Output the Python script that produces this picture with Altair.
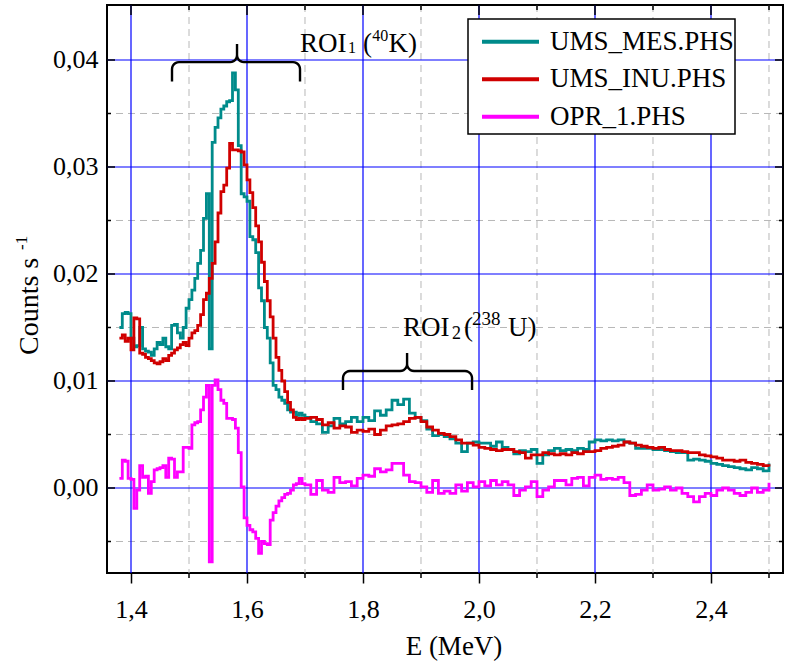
import math
import numpy as np
import pandas as pd
import altair as alt

FONT = "Liberation Serif, Tinos, Noto Serif, DejaVu Serif, serif"

# ---- energy bins (MeV) ----
E_FINE = [round(1.380 + 0.005 * i, 3) for i in range(65)]     # 1.380 .. 1.700
E_COARSE = [round(1.71 + 0.01 * i, 2) for i in range(80)]      # 1.71 .. 2.50
ENERGY = E_FINE + E_COARSE

SERIES = ["UMS_MES.PHS", "UMS_INU.PHS", "OPR_1.PHS"]
COLORS = ["#008B8B", "#D00000", "#FF00FF"]

# ---- count rates (counts s^-1) ----
UMS_MES_FINE = [
    0.0150, 0.0163, 0.0164, 0.0163, 0.0140, 0.0132, 0.0133, 0.0150, 0.0130, 0.0128,
    0.0127, 0.0124, 0.0130, 0.0136, 0.0134, 0.0140, 0.0132, 0.0130, 0.0152, 0.0153,
    0.0145, 0.0140, 0.0150, 0.0168, 0.0176, 0.0185, 0.0196, 0.0210, 0.0222, 0.0252,
    0.0275, 0.0130, 0.0323, 0.0337, 0.0346, 0.0354, 0.0357, 0.0361, 0.0362, 0.0388,
    0.0372, 0.0320, 0.0275, 0.0272, 0.0268, 0.0235, 0.0232, 0.0220, 0.0187, 0.0175,
    0.0150, 0.0140, 0.0117, 0.0096, 0.0092, 0.0085, 0.0082, 0.0079, 0.0073, 0.0071,
    0.0071, 0.0068, 0.0070, 0.0068, 0.0066]
UMS_MES_COARSE = [
    0.0062, 0.0060, 0.0052, 0.0058, 0.0065, 0.0060, 0.0062, 0.0066, 0.0062, 0.0066,
    0.0063, 0.0072, 0.0068, 0.0073, 0.0082, 0.0078, 0.0083, 0.0070, 0.0066, 0.0063,
    0.0055, 0.0049, 0.0050, 0.0048, 0.0046, 0.0042, 0.0034, 0.0042, 0.0043, 0.0042,
    0.0042, 0.0039, 0.0043, 0.0038, 0.0036, 0.0032, 0.0035, 0.0034, 0.0036, 0.0023,
    0.0031, 0.0035, 0.0037, 0.0035, 0.0036, 0.0035, 0.0037, 0.0036, 0.0043, 0.0045,
    0.0044, 0.0045, 0.0044, 0.0045, 0.0043, 0.0042, 0.0037, 0.0037, 0.0037, 0.0036,
    0.0036, 0.0035, 0.0034, 0.0033, 0.0033, 0.0026, 0.0027, 0.0026, 0.0025, 0.0023,
    0.0022, 0.0021, 0.0020, 0.0019, 0.0018, 0.0017, 0.0019, 0.0018, 0.0016, 0.0023]

UMS_INU_FINE = [
    0.0140, 0.0143, 0.0137, 0.0140, 0.0129, 0.0159, 0.0158, 0.0126, 0.0125, 0.0122,
    0.0121, 0.0119, 0.0117, 0.0116, 0.0118, 0.0121, 0.0119, 0.0124, 0.0126, 0.0129,
    0.0131, 0.0134, 0.0136, 0.0133, 0.0140, 0.0145, 0.0147, 0.0152, 0.0162, 0.0176,
    0.0182, 0.0196, 0.0210, 0.0230, 0.0257, 0.0277, 0.0283, 0.0299, 0.0322, 0.0316,
    0.0316, 0.0315, 0.0314, 0.0302, 0.0288, 0.0276, 0.0262, 0.0245, 0.0230, 0.0211,
    0.0193, 0.0175, 0.0160, 0.0140, 0.0122, 0.0110, 0.0100, 0.0090, 0.0080, 0.0073,
    0.0066, 0.0064, 0.0065, 0.0064, 0.0065]
UMS_INU_COARSE = [
    0.0066, 0.0064, 0.0059, 0.0061, 0.0056, 0.0058, 0.0057, 0.0052, 0.0054, 0.0053,
    0.0055, 0.0050, 0.0054, 0.0058, 0.0059, 0.0060, 0.0062, 0.0065, 0.0066, 0.0062,
    0.0057, 0.0054, 0.0051, 0.0050, 0.0048, 0.0045, 0.0042, 0.0042, 0.0040, 0.0038,
    0.0037, 0.0036, 0.0035, 0.0036, 0.0036, 0.0034, 0.0033, 0.0028, 0.0031, 0.0031,
    0.0033, 0.0032, 0.0031, 0.0032, 0.0031, 0.0033, 0.0032, 0.0034, 0.0034, 0.0035,
    0.0037, 0.0038, 0.0039, 0.0040, 0.0043, 0.0042, 0.0040, 0.0039, 0.0038, 0.0037,
    0.0038, 0.0036, 0.0035, 0.0035, 0.0034, 0.0033, 0.0033, 0.0031, 0.0030, 0.0029,
    0.0028, 0.0026, 0.0026, 0.0025, 0.0026, 0.0024, 0.0023, 0.0022, 0.0021, 0.0020]

OPR_1_FINE = [
    0.0009, 0.0026, 0.0025, 0.0009, 0.0008, -0.0019, -0.0002, 0.0021, 0.0010, 0.0011,
    -0.0005, 0.0006, 0.0017, 0.0018, 0.0019, 0.0021, 0.0010, 0.0028, 0.0027, 0.0010,
    0.0015, 0.0015, 0.0038, 0.0038, 0.0037, 0.0059, 0.0061, 0.0062, 0.0073, 0.0085,
    0.0096, -0.0069, 0.0096, 0.0101, 0.0092, 0.0082, 0.0079, 0.0065, 0.0065, 0.0064,
    0.0056, 0.0033, 0.0001, -0.0028, -0.0035, -0.0039, -0.0041, -0.0047, -0.0061, -0.0050,
    -0.0052, -0.0053, -0.0030, -0.0023, -0.0017, -0.0012, -0.0009, -0.0006, -0.0005, -0.0002,
    0.0003, 0.0004, 0.0009, 0.0004, 0.0003]
OPR_1_COARSE = [
    -0.0006, 0.0007, -0.0002, -0.0004, 0.0010, 0.0005, 0.0006, 0.0002, 0.0009, 0.0012,
    0.0011, 0.0018, 0.0015, 0.0017, 0.0023, 0.0023, 0.0012, 0.0006, 0.0005, 0.0001,
    -0.0004, 0.0007, -0.0005, -0.0003, -0.0005, 0.0003, -0.0003, 0.0005, 0.0001, 0.0006,
    0.0002, 0.0007, 0.0003, 0.0006, 0.0003, -0.0007, -0.0002, 0.0001, 0.0006, -0.0008,
    -0.0002, 0.0001, 0.0007, 0.0007, 0.0003, 0.0009, 0.0010, 0.0002, 0.0010, 0.0012,
    0.0008, 0.0009, 0.0008, 0.0010, 0.0005, -0.0007, -0.0006, -0.0002, 0.0003, -0.0002,
    -0.0001, 0.0001, -0.0002, 0.0000, -0.0005, -0.0008, -0.0013, -0.0008, -0.0005, -0.0007,
    -0.0002, 0.0000, -0.0002, -0.0005, -0.0007, -0.0004, 0.0000, -0.0004, -0.0002, 0.0005]

VALUES = [UMS_MES_FINE + UMS_MES_COARSE,
          UMS_INU_FINE + UMS_INU_COARSE,
          OPR_1_FINE + OPR_1_COARSE]

# ---- axes / grid ----
X_MAJOR = [1.4, 1.6, 1.8, 2.0, 2.2, 2.4]
X_MINOR = [1.5, 1.7, 1.9, 2.1, 2.3, 2.5]
Y_MAJOR = [0.0, 0.01, 0.02, 0.03, 0.04]
Y_MINOR = [-0.005, 0.005, 0.015, 0.025, 0.035]
X_DOMAIN = [1.35862, 2.52414]
Y_DOMAIN = [-0.007944, 0.04514]

# ---- ROI annotations ----
ROI_BRACES = [  # left, right, middle, end y, bar y, tip y
    (1.4707, 1.6914, 1.5828, 0.0380, 0.0398, 0.0415),
    (1.7655, 1.9880, 1.8760, 0.00916, 0.01093, 0.01262),
]
ROI_BIG = [("ROI", 1.6914, 0.04075), ("(", 1.8000, 0.04075), ("K)", 1.8440, 0.04075),
           ("ROI", 1.8690, 0.01421), ("(", 1.9740, 0.01421), ("U)", 2.0500, 0.01421)]
ROI_SMALL = [("1", 1.7741, 0.04065, 16), ("40", 1.8160, 0.04178, 16),
             ("2", 1.9534, 0.01394, 18), ("238", 1.9880, 0.01523, 19)]

W, H = 676, 568
FS = 26

xs = alt.Scale(domain=X_DOMAIN, nice=False, zero=False)
ys = alt.Scale(domain=Y_DOMAIN, nice=False, zero=False)

XAXIS = alt.Axis(values=X_MAJOR, labelExpr="replace(format(datum.value, '.1f'), '.', ',')",
                 labelFont=FONT, labelFontSize=FS, labelColor="black",
                 labelBaseline="alphabetic", labelPadding=34, labelFlush=False,
                 labelOverlap=False, tickSize=10, tickWidth=1.5, tickColor="black",
                 grid=False, domain=False, title="")
YAXIS = alt.Axis(values=Y_MAJOR, labelExpr="replace(format(datum.value, '.2f'), '.', ',')",
                 labelFont=FONT, labelFontSize=FS, labelColor="black",
                 labelBaseline="middle", labelPadding=9, labelFlush=False,
                 labelOverlap=False, ticks=False, tickSize=0,
                 grid=False, domain=False, title="")


def X(field):
    return alt.X(f"{field}:Q", scale=xs, axis=XAXIS)


def Y(field):
    return alt.Y(f"{field}:Q", scale=ys, axis=YAXIS)


layers = []

# grid
minor_x = pd.DataFrame({"x": X_MINOR})
minor_y = pd.DataFrame({"y": Y_MINOR})
major_x = pd.DataFrame({"x": X_MAJOR})
major_y = pd.DataFrame({"y": Y_MAJOR})
layers.append(alt.Chart(minor_x).mark_rule(color="#B8B8B8", strokeWidth=1, strokeDash=[7, 5]).encode(x=X("x")))
layers.append(alt.Chart(minor_y).mark_rule(color="#B8B8B8", strokeWidth=1, strokeDash=[7, 5]).encode(y=Y("y")))
layers.append(alt.Chart(major_x).mark_rule(color="#0000FF", strokeWidth=1.2).encode(x=X("x")))
layers.append(alt.Chart(major_y).mark_rule(color="#0000FF", strokeWidth=1.2).encode(y=Y("y")))

# spectra
for name, color, vals in zip(SERIES, COLORS, VALUES):
    assert len(vals) == len(ENERGY), (name, len(vals))
    df = pd.DataFrame({"E": ENERGY, "v": vals})
    layers.append(alt.Chart(df).mark_line(color=color, strokeWidth=2.8,
                                          interpolate="step-after").encode(x=X("E"), y=Y("v")))


# braces
def brace(L, R, M, y_end, y_bar, y_tip, rx=0.012, ry=0.00065, n=7):
    def arc(cx, cy, t0, t1):
        return [(cx + rx * math.cos(t), cy + ry * math.sin(t)) for t in np.linspace(t0, t1, n)]
    pts = [(L, y_end)]
    pts += arc(L + rx, y_bar - ry, math.pi, math.pi / 2)
    pts += arc(M - rx, y_bar + ry, -math.pi / 2, 0)
    pts += [(M, y_tip), (M, y_bar + ry)]
    pts += arc(M + rx, y_bar + ry, math.pi, 1.5 * math.pi)
    pts += arc(R - rx, y_bar - ry, math.pi / 2, 0)
    pts += [(R, y_end)]
    return pts


for i, b in enumerate(ROI_BRACES):
    pts = brace(*b)
    bdf = pd.DataFrame({"bx": [p[0] for p in pts], "by": [p[1] for p in pts],
                        "ord": list(range(len(pts)))})
    layers.append(alt.Chart(bdf).mark_line(color="black", strokeWidth=2.4).encode(
        x=X("bx"), y=Y("by"), order="ord:Q"))

for t, tx, ty in ROI_BIG:
    bdf = pd.DataFrame({"t": [t], "tx": [tx], "ty": [ty]})
    layers.append(alt.Chart(bdf).mark_text(font=FONT, fontSize=FS + 1, align="left",
                                           baseline="alphabetic", color="black").encode(
        x=X("tx"), y=Y("ty"), text="t:N"))
for t, tx, ty, fs in ROI_SMALL:
    sdf = pd.DataFrame({"t": [t], "tx": [tx], "ty": [ty]})
    layers.append(alt.Chart(sdf).mark_text(font=FONT, fontSize=fs, align="left",
                                           baseline="alphabetic", color="black").encode(
        x=X("tx"), y=Y("ty"), text="t:N"))

# frame ticks (inward on top/left/right, minor outward on bottom)
TK = dict(color="black", strokeWidth=1.5)
layers.append(alt.Chart(major_x).mark_rule(**TK).encode(x=X("x"), y=alt.value(0), y2=alt.value(10)))
layers.append(alt.Chart(minor_x).mark_rule(**TK).encode(x=X("x"), y=alt.value(0), y2=alt.value(5)))
layers.append(alt.Chart(minor_x).mark_rule(**TK).encode(x=X("x"), y=alt.value(H), y2=alt.value(H + 5)))
layers.append(alt.Chart(major_y).mark_rule(**TK).encode(y=Y("y"), x=alt.value(0), x2=alt.value(8)))
layers.append(alt.Chart(minor_y).mark_rule(**TK).encode(y=Y("y"), x=alt.value(0), x2=alt.value(4)))
layers.append(alt.Chart(major_y).mark_rule(**TK).encode(y=Y("y"), x=alt.value(W - 8), x2=alt.value(W)))
layers.append(alt.Chart(minor_y).mark_rule(**TK).encode(y=Y("y"), x=alt.value(W - 4), x2=alt.value(W)))

# legend
one = pd.DataFrame({"a": [0]})
layers.append(alt.Chart(one).mark_rect(fill="white", stroke="black", strokeWidth=1.5).encode(
    x=alt.value(361), x2=alt.value(628), y=alt.value(14), y2=alt.value(129)))
for i, (name, color) in enumerate(zip(SERIES, COLORS)):
    yy = 36.7 + 37.5 * i
    layers.append(alt.Chart(one).mark_rule(color=color, strokeWidth=4).encode(
        x=alt.value(375), x2=alt.value(432), y=alt.value(yy)))
    layers.append(alt.Chart(one).mark_text(text=name, font=FONT, fontSize=FS + 1, align="left",
                                           baseline="middle", color="black").encode(
        x=alt.value(443), y=alt.value(yy)))

# axis titles
layers.append(alt.Chart(one).mark_text(text="Counts s", font=FONT, fontSize=FS + 2, angle=270,
                                       align="left", baseline="alphabetic", color="black").encode(
    x=alt.value(-69), y=alt.value(350)))
layers.append(alt.Chart(one).mark_text(text="-1", font=FONT, fontSize=17, angle=270,
                                       align="left", baseline="alphabetic", color="black").encode(
    x=alt.value(-80), y=alt.value(245)))
layers.append(alt.Chart(one).mark_text(text="E (MeV)", font=FONT, fontSize=FS + 1,
                                       align="center", baseline="alphabetic", color="black").encode(
    x=alt.value(347), y=alt.value(650)))

chart = alt.layer(*layers).properties(
    width=W, height=H,
    autosize=alt.AutoSizeParams(type="none"),
    padding={"left": 107, "top": 5, "right": 10, "bottom": 93},
    background="white",
).configure_view(stroke="black", strokeWidth=2)

chart.save("out.html", embed_options={"renderer": "svg", "actions": False})
